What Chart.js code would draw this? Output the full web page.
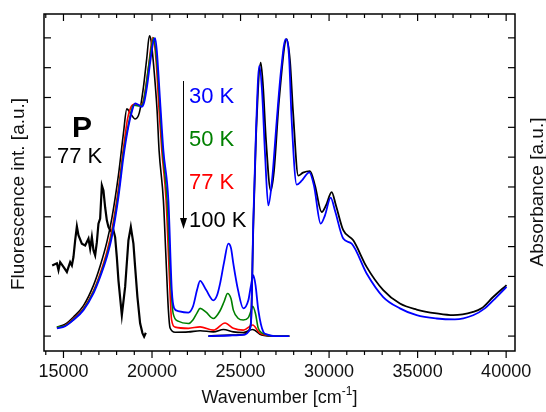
<!DOCTYPE html>
<html>
<head>
<meta charset="utf-8">
<script src="https://cdn.jsdelivr.net/npm/chart.js"></script>
<style>
  html, body { margin: 0; padding: 0; background: #fff; }
</style>
</head>
<body>
<canvas id="chart" width="546" height="412"></canvas>
<script>
// tick labels
const xTicks = [15000, 20000, 25000, 30000, 35000, 40000];
const yTicks = [0, 1, 2, 3, 4, 5, 6, 7, 8, 9, 10];

// fluorescence of P at 77 K (noisy black curve)
const flP77K = [
  [14362, 2.37], [14628, 2.44], [14718, 2.21], [14814, 2.48], [15000, 2.32], [15192, 2.15],
  [15378, 2.48], [15474, 2.37], [15564, 2.65], [15660, 3.21], [15756, 3.68], [15846, 3.38],
  [16038, 3.10], [16225, 3.04], [16411, 3.27], [16507, 2.93], [16603, 3.32], [16693, 2.88],
  [16789, 2.71], [16885, 3.15], [16975, 3.77], [17071, 3.94], [17167, 5.05], [17257, 4.88],
  [17353, 4.32], [17449, 3.88], [17539, 3.66], [17635, 3.55], [17731, 3.49], [17821, 3.55],
  [17917, 3.32], [18013, 2.65], [18104, 1.87], [18296, 0.70], [18482, 1.65], [18668, 3.21],
  [18803, 3.66], [18950, 3.10], [19046, 2.32], [19176, 1.31], [19328, 0.43], [19460, 0.10],
  [19554, -0.02], [19650, 0.11]
];

// fluorescence, temperature series
const fl30K = [
  [14628, 0.26], [15096, 0.33], [15564, 0.54], [16129, 0.87], [16693, 1.43], [17071, 1.98],
  [17449, 2.65], [17731, 3.32], [18104, 4.66], [18386, 6.00], [18623, 6.89], [18877, 7.56],
  [19046, 7.80], [19216, 7.76], [19424, 7.69], [19554, 7.83], [19723, 8.39], [19893, 9.16],
  [20062, 9.83], [20175, 9.99], [20271, 9.57], [20457, 7.89], [20643, 6.22], [20925, 4.55],
  [21117, 1.54], [21247, 0.94], [21473, 0.84], [22054, 0.79], [22319, 1.00], [22545, 1.55],
  [22714, 1.85], [23053, 1.55], [23465, 1.20], [23674, 1.37], [23843, 1.76], [24069, 2.47],
  [24311, 3.10], [24464, 2.94], [24593, 2.43], [24859, 1.54], [25157, 0.93], [25440, 1.20],
  [25592, 1.71], [25722, 2.04], [25846, 1.71], [26004, 0.87], [26286, 0.14], [26478, 0.06],
  [26946, 0.00], [27753, 0.00]
];
const fl50K = [
  [14628, 0.30], [15096, 0.35], [15564, 0.56], [16129, 0.90], [16693, 1.48], [17071, 2.04],
  [17449, 2.72], [17731, 3.42], [18104, 4.80], [18386, 6.15], [18700, 7.20], [18950, 7.75],
  [19216, 7.72], [19450, 7.75], [19620, 8.20], [19850, 9.20], [20090, 10.00], [20287, 9.06],
  [20457, 7.56], [20598, 6.22], [20852, 4.55], [21050, 1.87], [21190, 0.77], [21473, 0.50],
  [22054, 0.42], [22319, 0.55], [22545, 0.78], [22714, 0.93], [23053, 0.80], [23465, 0.59],
  [23843, 0.85], [24069, 1.15], [24266, 1.43], [24464, 1.25], [24593, 0.87], [24859, 0.60],
  [25157, 0.54], [25440, 0.62], [25592, 0.85], [25688, 1.00], [25846, 0.75], [26004, 0.26],
  [26382, 0.06], [26946, 0.00], [27753, 0.00]
];
const fl77K = [
  [14628, 0.28], [15096, 0.36], [15564, 0.58], [16129, 0.93], [16693, 1.52], [17071, 2.10],
  [17449, 2.82], [17731, 3.55], [18104, 4.95], [18386, 6.30], [18623, 7.30], [18803, 7.67],
  [19046, 7.78], [19289, 7.73], [19514, 7.89], [19797, 9.01], [20045, 10.01], [20231, 9.23],
  [20400, 7.56], [20553, 6.22], [20795, 4.55], [20964, 2.21], [21106, 0.54], [21303, 0.30],
  [22054, 0.26], [22714, 0.31], [23465, 0.20], [24124, 0.44], [24593, 0.26], [25157, 0.20],
  [25688, 0.37], [26100, 0.09], [26946, 0.00], [27753, 0.00]
];
const fl100K = [
  [14628, 0.30], [15096, 0.40], [15564, 0.64], [16129, 1.02], [16693, 1.70], [17071, 2.35],
  [17449, 3.15], [17731, 3.95], [18104, 5.40], [18386, 6.80], [18578, 7.62], [18800, 7.45],
  [19046, 7.28], [19289, 7.50], [19514, 8.34], [19700, 9.30], [19853, 10.07], [19949, 9.90],
  [20118, 8.90], [20287, 7.56], [20400, 6.22], [20643, 4.55], [20795, 2.54], [20925, 0.87],
  [21021, 0.27], [21303, 0.13], [22054, 0.14], [22714, 0.18], [23465, 0.14], [24033, 0.22],
  [24593, 0.14], [25157, 0.12], [25688, 0.22], [26190, 0.04], [26946, 0.00], [27753, 0.00]
];

// absorbance
const abs30K = [
  [23182, 0.00], [24407, 0.02], [25253, 0.05], [25479, 0.17], [25592, 0.47], [25722, 3.88],
  [25874, 6.89], [26060, 9.06], [26213, 8.23], [26382, 6.12], [26568, 4.38], [26777, 5.22],
  [27043, 7.22], [27286, 8.90], [27550, 9.96], [27736, 9.40], [27889, 7.22], [28171, 5.08],
  [28470, 5.22], [28882, 5.49], [29147, 5.05], [29525, 3.77], [29768, 4.05], [30089, 4.64],
  [30332, 4.21], [30800, 3.27], [31275, 3.10], [32121, 2.10], [33058, 1.31], [34000, 0.93],
  [34943, 0.70], [36071, 0.59], [37103, 0.56], [38136, 0.70], [38796, 0.93], [39457, 1.31],
  [40021, 1.65]
];
const abs100K = [
  [23182, 0.00], [24407, 0.03], [25253, 0.07], [25479, 0.20], [25592, 0.50], [25722, 3.70],
  [25874, 6.70], [26139, 9.17], [26269, 8.39], [26439, 6.56], [26704, 4.88], [26890, 5.55],
  [27172, 7.89], [27606, 9.96], [27793, 9.23], [27962, 7.56], [28261, 5.38], [28526, 5.48],
  [28921, 5.53], [29203, 5.05], [29581, 4.16], [29824, 4.38], [30146, 4.83], [30389, 4.38],
  [30800, 3.55], [31365, 3.21], [32121, 2.32], [33058, 1.54], [34000, 1.09], [34943, 0.89],
  [36071, 0.76], [37008, 0.70], [38136, 0.81], [38610, 0.93], [39265, 1.31], [40021, 1.71]
];

const FONT = "'Liberation Sans', Arial, sans-serif";

function series(points, color, width, smooth) {
  return {
    data: points.map(([x, y]) => ({ x, y })),
    borderColor: color,
    borderWidth: width,
    pointRadius: 0,
    fill: false,
    cubicInterpolationMode: smooth ? "monotone" : "default",
    tension: 0,
  };
}

// first dataset is drawn on top
const datasets = [
  series(abs30K, "#0000ff", 1.8, true),
  series(abs100K, "#000000", 1.8, true),
  series(fl30K, "#0000ff", 1.8, true),
  series(fl50K, "#008000", 1.6, true),
  series(fl77K, "#ff0000", 1.6, true),
  series(fl100K, "#000000", 1.6, true),
  series(flP77K, "#000000", 2.2, false),
];

/** frame, inward ticks, titles and labels */
const decorations = {
  id: "decorations",
  afterDraw(chart) {
    const { ctx, chartArea: a } = chart;
    const x = chart.scales.x;
    const y = chart.scales.y;
    const line = (x1, y1, x2, y2) => {
      ctx.beginPath();
      ctx.moveTo(x1, y1);
      ctx.lineTo(x2, y2);
      ctx.stroke();
    };
    ctx.save();
    ctx.strokeStyle = "#000";
    ctx.lineWidth = 1.5;
    ctx.strokeRect(a.left, a.top, a.right - a.left, a.bottom - a.top);

    ctx.lineWidth = 1.2;
    for (let v = 14000; v <= 40000; v += 1000) {
      const px = x.getPixelForValue(v);
      const len = v % 5000 === 0 ? 7 : 4;
      line(px, a.top, px, a.top + len);
      line(px, a.bottom, px, a.bottom + len);
    }
    yTicks.forEach((v) => {
      const py = y.getPixelForValue(v);
      line(a.left, py, a.left + 7, py);
      line(a.right - 7, py, a.right, py);
    });

    // temperature arrow
    ctx.lineWidth = 1;
    line(183.5, 81, 183.5, 220);
    ctx.fillStyle = "#000";
    ctx.beginPath();
    ctx.moveTo(180, 218);
    ctx.lineTo(187, 218);
    ctx.lineTo(183.5, 229);
    ctx.closePath();
    ctx.fill();

    // annotations
    ctx.textBaseline = "alphabetic";
    ctx.textAlign = "left";
    ctx.font = `bold 30px ${FONT}`;
    ctx.fillStyle = "#000";
    ctx.fillText("P", 72, 137);
    ctx.font = `22px ${FONT}`;
    ctx.fillText("77 K", 57, 163);
    [["30 K", "#0000ff", 103], ["50 K", "#008000", 146], ["77 K", "#ff0000", 189], ["100 K", "#000000", 227]]
      .forEach(([t, c, by]) => {
        ctx.fillStyle = c;
        ctx.fillText(t, 189, by);
      });

    // axis titles
    ctx.fillStyle = "#111";
    ctx.font = `19px ${FONT}`;
    ctx.textAlign = "center";
    ctx.textBaseline = "middle";
    ctx.save();
    ctx.translate(19, 194);
    ctx.rotate(-Math.PI / 2);
    ctx.fillText("Fluorescence int. [a.u.]", 0, 0);
    ctx.restore();
    ctx.save();
    ctx.translate(538, 192);
    ctx.rotate(-Math.PI / 2);
    ctx.fillText("Absorbance [a.u.]", 0, 0);
    ctx.restore();

    ctx.textAlign = "left";
    ctx.textBaseline = "alphabetic";
    const main = "Wavenumber [cm";
    const sup = "-1";
    const end = "]";
    ctx.font = `18px ${FONT}`;
    const w1 = ctx.measureText(main).width;
    const w3 = ctx.measureText(end).width;
    ctx.font = `12px ${FONT}`;
    const w2 = ctx.measureText(sup).width;
    const sx = (a.left + a.right) / 2 - (w1 + w2 + w3) / 2;
    const base = 403;
    ctx.font = `18px ${FONT}`;
    ctx.fillText(main, sx, base);
    ctx.font = `12px ${FONT}`;
    ctx.fillText(sup, sx + w1, base - 8);
    ctx.font = `18px ${FONT}`;
    ctx.fillText(end, sx + w1 + w2, base);
    ctx.restore();
  },
};

const ctx = document.getElementById("chart");
new Chart(ctx, {
  type: "line",
  data: { datasets },
  options: {
    responsive: false,
    animation: false,
    layout: { padding: { top: 14, right: 31, left: 0, bottom: 0 } },
    plugins: { legend: { display: false }, tooltip: { enabled: false } },
    scales: {
      x: {
        type: "linear",
        min: 13900,
        max: 40500,
        grid: { display: false, drawTicks: false },
        border: { display: false },
        ticks: {
          padding: 10,
          color: "#111",
          font: { size: 18, family: FONT },
          maxRotation: 0,
          autoSkip: false,
          callback: (v) => String(v),
        },
        afterBuildTicks: (s) => {
          s.ticks = xTicks.map((v) => ({ value: v }));
        },
        afterFit: (s) => {
          s.height = 61;
        },
      },
      y: {
        min: -0.5,
        max: 10.8,
        grid: { display: false, drawTicks: false },
        border: { display: false },
        ticks: { display: false },
        afterFit: (s) => {
          s.width = 44;
        },
      },
    },
  },
  plugins: [decorations],
});
</script>
</body>
</html>
